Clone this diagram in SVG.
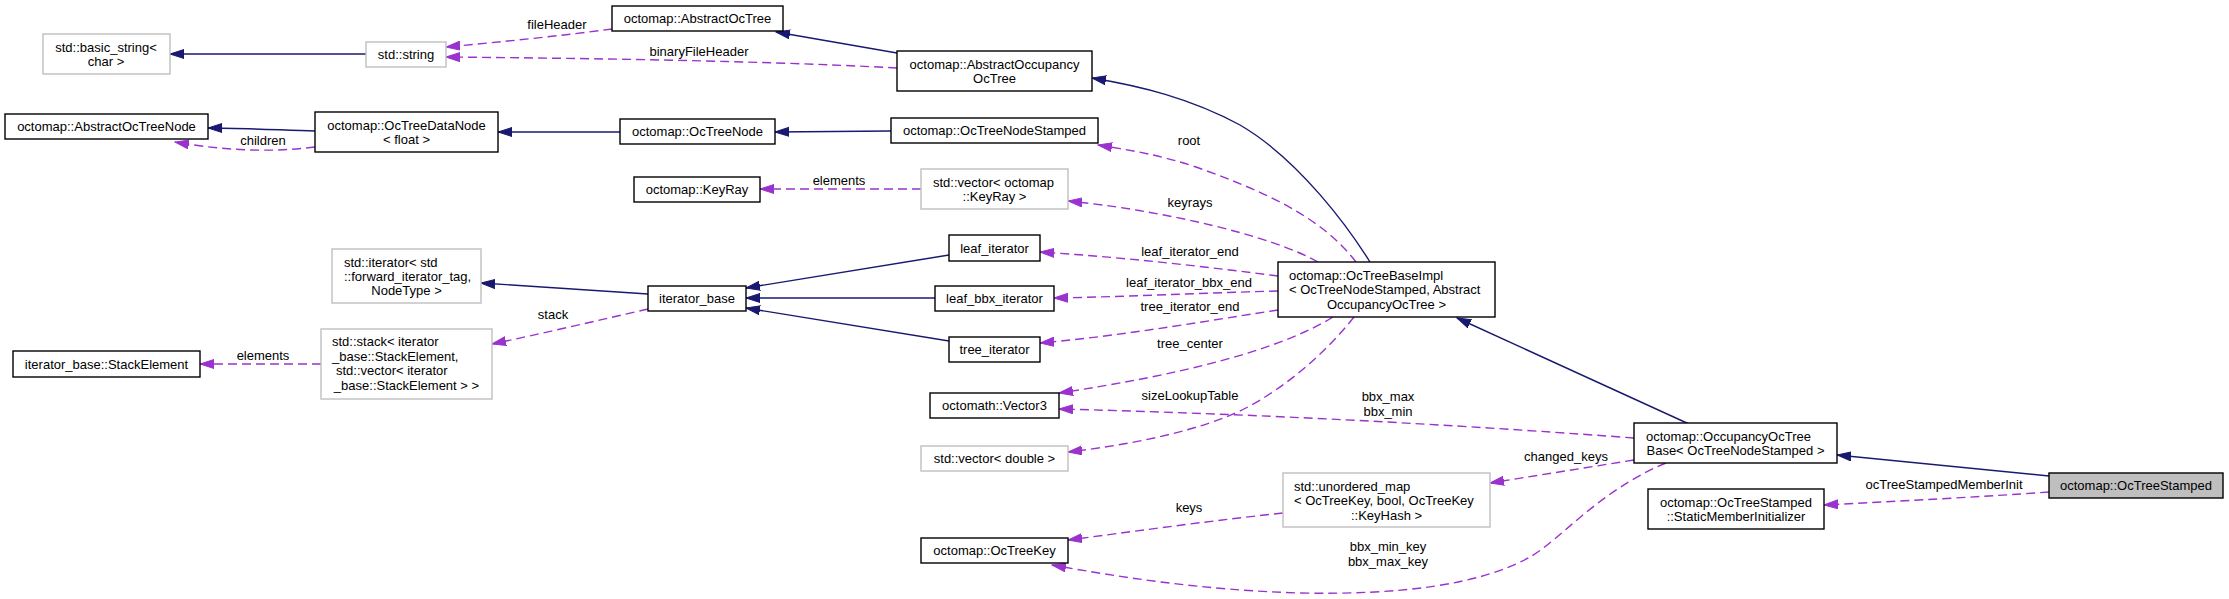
<svg xmlns="http://www.w3.org/2000/svg" width="2229" height="599" viewBox="0 0 2229 599">
<style>
text{font-family:"Liberation Sans",Arial,sans-serif;font-size:13px;fill:#000}
.m{text-anchor:middle}
.s{text-anchor:start}
.n rect{fill:#fff;stroke:#000;stroke-width:1.4}
.g rect{fill:#fff;stroke:#bfbfbf;stroke-width:1.4}
.c rect{fill:#bfbfbf;stroke:#000;stroke-width:1.4}
.inh{fill:none;stroke:#191970;stroke-width:1.4;marker-end:url(#an)}
.use{fill:none;stroke:#9a32cd;stroke-width:1.4;stroke-dasharray:9,5;marker-end:url(#ap)}
</style>
<defs>
<marker id="an" markerUnits="userSpaceOnUse" markerWidth="15" markerHeight="11" refX="14" refY="5" orient="auto" viewBox="0 0 15 11"><path d="M0,0.5 L14,5 L0,9.5 z" fill="#191970" stroke="#191970" stroke-width="1"/></marker>
<marker id="ap" markerUnits="userSpaceOnUse" markerWidth="15" markerHeight="11" refX="14" refY="5" orient="auto" viewBox="0 0 15 11"><path d="M0,0.5 L14,5 L0,9.5 z" fill="#9a32cd" stroke="#9a32cd" stroke-width="1"/></marker>
</defs>
<rect width="2229" height="599" fill="#fff"/>
<g id="connectors">
<path class="inh" d="M366,54 L170,54"/>
<path class="inh" d="M315,131 C280,130 240,128 208,128"/>
<path class="inh" d="M620,132 L498,132"/>
<path class="inh" d="M891,131 L775,132"/>
<path class="inh" d="M897,53 L776,32"/>
<path class="inh" d="M1370,262 C1350,230 1300,160 1240,125 C1190,98 1140,86 1092,78"/>
<path class="inh" d="M1689,424 L1457,318"/>
<path class="inh" d="M2049,476 L1837,455"/>
<path class="inh" d="M648,294 L481,283"/>
<path class="inh" d="M949,255 L746,288"/>
<path class="inh" d="M935,298 L746,298"/>
<path class="inh" d="M949,341 L746,308"/>
<path class="use" d="M612,29 C560,36 500,42 446,47"/>
<path class="use" d="M897,68 C750,60 550,58 446,57"/>
<path class="use" d="M315,147 C270,153 220,150 175,142"/>
<path class="use" d="M1356,262 C1320,215 1260,190 1196,167 C1160,155 1130,150 1098,145"/>
<path class="use" d="M921,189 L760,189"/>
<path class="use" d="M1318,262 C1270,235 1160,210 1068,201"/>
<path class="use" d="M1278,276 C1200,266 1120,257 1040,252"/>
<path class="use" d="M1278,291 C1200,293 1120,297 1054,298"/>
<path class="use" d="M1278,310 C1200,322 1120,336 1040,343"/>
<path class="use" d="M1333,317 C1280,350 1180,375 1059,393"/>
<path class="use" d="M1354,317 C1320,360 1270,400 1226,417 C1180,435 1120,446 1068,452"/>
<path class="use" d="M1634,438 C1500,428 1300,415 1059,409"/>
<path class="use" d="M1634,460 L1490,483"/>
<path class="use" d="M1283,513 C1200,522 1130,532 1068,540"/>
<path class="use" d="M1666,463 C1600,490 1560,540 1530,557 C1480,585 1400,595 1300,593 C1200,590 1120,577 1052,565"/>
<path class="use" d="M648,309 C600,320 540,334 492,344"/>
<path class="use" d="M321,364 L200,364"/>
<path class="use" d="M2049,492 C1980,497 1900,501 1824,505"/>
<text class="m" x="557" y="29">fileHeader</text>
<text class="m" x="699" y="56">binaryFileHeader</text>
<text class="m" x="263" y="145">children</text>
<text class="m" x="1189" y="145">root</text>
<text class="m" x="839" y="185">elements</text>
<text class="m" x="1190" y="207">keyrays</text>
<text class="m" x="1190" y="256">leaf_iterator_end</text>
<text class="m" x="1189" y="287">leaf_iterator_bbx_end</text>
<text class="m" x="1190" y="311">tree_iterator_end</text>
<text class="m" x="1190" y="348">tree_center</text>
<text class="m" x="1190" y="400">sizeLookupTable</text>
<text class="m" x="1388" y="401">bbx_max</text>
<text class="m" x="1388" y="416">bbx_min</text>
<text class="m" x="1566" y="461">changed_keys</text>
<text class="m" x="1189" y="512">keys</text>
<text class="m" x="1388" y="551">bbx_min_key</text>
<text class="m" x="1388" y="566">bbx_max_key</text>
<text class="m" x="553" y="319">stack</text>
<text class="m" x="263" y="360">elements</text>
<text class="m" x="1944" y="489">ocTreeStampedMemberInit</text>
</g>
<g id="n_basic_string" class="g"><rect x="43" y="34" width="127" height="40"/><text class="m" x="106" y="51.5">std::basic_string&lt;</text><text class="m" x="106" y="65.5">char &gt;</text></g>
<g id="n_string" class="g"><rect x="366" y="42" width="80" height="25"/><text class="m" x="406" y="59">std::string</text></g>
<g id="n_AbstractOcTree" class="n"><rect x="612" y="6" width="171" height="25"/><text class="m" x="697.5" y="23">octomap::AbstractOcTree</text></g>
<g id="n_AbstractOccupancyOcTree" class="n"><rect x="897" y="51" width="195" height="40"/><text class="m" x="994.5" y="68.5">octomap::AbstractOccupancy</text><text class="m" x="994.5" y="82.5">OcTree</text></g>
<g id="n_AbstractOcTreeNode" class="n"><rect x="5" y="114" width="203" height="25"/><text class="m" x="106.5" y="131">octomap::AbstractOcTreeNode</text></g>
<g id="n_OcTreeDataNode" class="n"><rect x="315" y="112" width="183" height="40"/><text class="m" x="406.5" y="129.5">octomap::OcTreeDataNode</text><text class="m" x="406.5" y="143.5">&lt; float &gt;</text></g>
<g id="n_OcTreeNode" class="n"><rect x="620" y="119" width="155" height="25"/><text class="m" x="697.5" y="136">octomap::OcTreeNode</text></g>
<g id="n_OcTreeNodeStamped" class="n"><rect x="891" y="118" width="207" height="25"/><text class="m" x="994.5" y="135">octomap::OcTreeNodeStamped</text></g>
<g id="n_KeyRay" class="n"><rect x="634" y="177" width="126" height="25"/><text class="m" x="697" y="194">octomap::KeyRay</text></g>
<g id="n_vector_KeyRay" class="g"><rect x="921" y="169" width="147" height="40"/><text class="s" x="933" y="186.5">std::vector&lt; octomap</text><text class="m" x="994.5" y="200.5">::KeyRay &gt;</text></g>
<g id="n_std_iterator" class="g"><rect x="332" y="249" width="149" height="54"/><text class="s" x="344" y="266.5">std::iterator&lt; std</text><text class="s" x="344" y="280.5">::forward_iterator_tag,</text><text class="m" x="406.5" y="294.5">NodeType &gt;</text></g>
<g id="n_iterator_base" class="n"><rect x="648" y="286" width="98" height="25"/><text class="m" x="697" y="303">iterator_base</text></g>
<g id="n_leaf_iterator" class="n"><rect x="949" y="235" width="91" height="26"/><text class="m" x="994.5" y="252.5">leaf_iterator</text></g>
<g id="n_leaf_bbx_iterator" class="n"><rect x="935" y="286" width="119" height="25"/><text class="m" x="994.5" y="303">leaf_bbx_iterator</text></g>
<g id="n_tree_iterator" class="n"><rect x="949" y="337" width="91" height="25"/><text class="m" x="994.5" y="354">tree_iterator</text></g>
<g id="n_OcTreeBaseImpl" class="n"><rect x="1278" y="262" width="217" height="55"/><text class="s" x="1289" y="279.5">octomap::OcTreeBaseImpl</text><text class="s" x="1289" y="294">&lt; OcTreeNodeStamped, Abstract</text><text class="m" x="1386.5" y="308.5">OccupancyOcTree &gt;</text></g>
<g id="n_std_stack" class="g"><rect x="321" y="329" width="171" height="70"/><text class="s" x="332" y="346">std::stack&lt; iterator</text><text class="s" x="332" y="360.5">_base::StackElement,</text><text class="s" x="336" y="375">std::vector&lt; iterator</text><text class="m" x="406.5" y="389.5">_base::StackElement &gt; &gt;</text></g>
<g id="n_StackElement" class="n"><rect x="13" y="351" width="187" height="26"/><text class="m" x="106.5" y="368.5">iterator_base::StackElement</text></g>
<g id="n_Vector3" class="n"><rect x="930" y="393" width="129" height="25"/><text class="m" x="994.5" y="410">octomath::Vector3</text></g>
<g id="n_vector_double" class="g"><rect x="921" y="446" width="147" height="25"/><text class="m" x="994.5" y="463">std::vector&lt; double &gt;</text></g>
<g id="n_OccupancyOcTreeBase" class="n"><rect x="1634" y="423" width="203" height="40"/><text class="s" x="1646" y="440.5">octomap::OccupancyOcTree</text><text class="m" x="1735.5" y="454.5">Base&lt; OcTreeNodeStamped &gt;</text></g>
<g id="n_unordered_map" class="g"><rect x="1283" y="473" width="207" height="54"/><text class="s" x="1294" y="490.5">std::unordered_map</text><text class="s" x="1294" y="505">&lt; OcTreeKey, bool, OcTreeKey</text><text class="m" x="1386.5" y="519.5">::KeyHash &gt;</text></g>
<g id="n_OcTreeKey" class="n"><rect x="921" y="538" width="147" height="25"/><text class="m" x="994.5" y="555">octomap::OcTreeKey</text></g>
<g id="n_StaticMemberInitializer" class="n"><rect x="1648" y="489" width="176" height="40"/><text class="m" x="1736" y="506.5">octomap::OcTreeStamped</text><text class="m" x="1736" y="520.5">::StaticMemberInitializer</text></g>
<g id="n_OcTreeStamped" class="c"><rect x="2049" y="473" width="174" height="25"/><text class="m" x="2136" y="490">octomap::OcTreeStamped</text></g>
</svg>
